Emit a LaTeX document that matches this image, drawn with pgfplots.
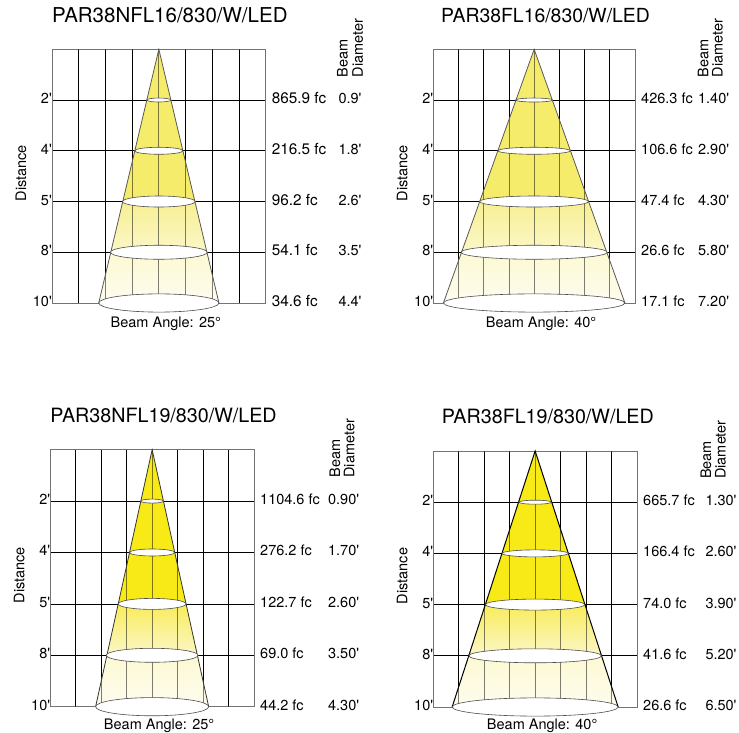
\documentclass[border=0pt]{standalone}
\usepackage{fontspec}
\setmainfont{TeX Gyre Heros}
\usepackage{pgfplots}
\pgfplotsset{compat=1.18}

\newcommand{\ft}{\textquotesingle}
\newcommand{\lab}{\fontsize{14.5}{16}\selectfont}

\pgfplotsset{
  panel/.style={
    scale only axis, clip=false, anchor=south west,
    xmin=-4, xmax=4, ymin=0, ymax=10, y dir=reverse,
    xtick={-4,-3,-2,-1,0,1,2,3,4}, xticklabels={},
    ytick={2,4,6,8,10}, yticklabels={2\ft,4\ft,5\ft,8\ft,10\ft},
    major tick length=0pt,
    grid=major, grid style={black, line width=0.7pt},
    axis line style={black!55, line width=0.7pt},
    font=\lab, tick label style={font=\lab},
    yticklabel style={anchor=base east, inner sep=0pt, yshift=-3.5pt},
    xlabel=Beam Angle: 25°,
    ylabel=Distance,
    every axis y label/.style={at={(axis description cs:0,0.5)}, xshift=-31pt, yshift=3pt,
      rotate=90, anchor=center, inner sep=0pt, font=\lab},
    every axis x label/.style={at={(axis description cs:0.5,0)},
      anchor=base, xshift=7pt, yshift=-24.7pt, font=\lab},
    every axis title/.style={at={(axis description cs:0,1)}, anchor=base west, inner sep=0pt,
      yshift=27pt, font=\fontsize{20.5}{22}\selectfont},
  },
}

% half beam widths in feet at the five rows, solid colour, fade colour
\newcommand{\beam}[7]{
  \addplot[draw=none, fill=#6] coordinates {(0,0) (#3,6) (-#3,6)} --cycle;
  \addplot[draw=none, top color=#7, bottom color=beamb] coordinates {(-#3,6) (#3,6) (#4,8) (-#4,8)} --cycle;
  \addplot[draw=none, top color=beamc, bottom color=beamd] coordinates {(-#4,8) (#4,8) (#5,10) (-#5,10)} --cycle;
  \pgfplotsinvokeforeach{-3,-2,-1,0,1,2,3}{
    \addplot[black, draw opacity=0.5, line width=0.7pt] coordinates {(##1,0) (##1,10)};
  }
  \ring{#1}{2}{2}
  \ring{#2}{4}{3.5}
  \ring{#3}{6}{5.5}
  \ring{#4}{8}{7}
  \ring{#5}{10}{9.1}
  \addplot[beamedge] coordinates {(-#5,10) (0,0) (#5,10)};
}
\newcommand{\ring}[3]{
  \addplot[only marks, mark=*, mark size=#3pt,
    mark options={xscale={#1*\colw/#3}, fill=white, draw=black!70, line width=0.6pt}]
    coordinates {(0,#2)};
}
% distance row: y, illuminance, beam diameter
\newcommand{\row}[3]{
  \node[anchor=base west, inner sep=0pt, font=\rowfont, xshift=6pt, yshift=-3.5pt] at (axis cs:4,#1) {#2};
  \node[anchor=base east, inner sep=0pt, font=\lab, xshift=\diax, yshift=-3.5pt] at (axis cs:4,#1) {#3};
}
% rotated header, baselines given from the right edge
\newcommand{\header}[2]{
  \node[xshift=#1, yshift=-28pt, rotate=90, anchor=base west, inner sep=0pt, font=\lab] at (axis description cs:1,1) {Beam};
  \node[xshift=#2, yshift=-28pt, rotate=90, anchor=base west, inner sep=0pt, font=\lab] at (axis description cs:1,1) {Diameter};
}

\begin{document}
\begin{tikzpicture}
\path[use as bounding box] (0,0) rectangle (739pt,733pt);

\definecolor{paleA}{HTML}{F6EC6C}
\definecolor{paleB}{HTML}{F7EF93}
\definecolor{beamb}{HTML}{FBF7C8}
\definecolor{beamc}{HTML}{FCF9D2}
\definecolor{beamd}{HTML}{FEFCEF}
\definecolor{fullA}{HTML}{F7EA17}
\definecolor{fullB}{HTML}{F9EC5B}

% PAR38NFL16
\tikzset{beamedge/.style={black!65, line width=0.8pt}}
\def\colw{26.7}\def\diax{96pt}\def\rowfont{\fontsize{15.3}{16}\selectfont}
\begin{axis}[panel, at={(52pt,430pt)}, width=213.7pt, height=253.7pt,
    title=PAR38NFL16/830/W/LED]
  \beam{0.45}{0.905}{1.36}{1.81}{2.25}{paleA}{paleB}
  \row{2}{865.9 fc}{0.9\ft}
  \row{4}{216.5 fc}{1.8\ft}
  \row{6}{96.2 fc}{2.6\ft}
  \row{8}{54.1 fc}{3.5\ft}
  \row{10}{34.6 fc}{4.4\ft}
  \header{82pt}{97.3pt}
\end{axis}

% PAR38FL16
\def\colw{25.2}\def\diax{94.3pt}\def\rowfont{\lab}
\begin{axis}[panel, at={(433.3pt,430pt)}, width=201.7pt, height=253.7pt,
    title=PAR38FL16/830/W/LED, title style={xshift=7.7pt, font=\fontsize{19.4}{22}\selectfont},
    xlabel=Beam Angle: 40°]
  \beam{0.73}{1.435}{2.16}{2.9}{3.6}{paleA}{paleB}
  \row{2}{426.3 fc}{1.40\ft}
  \row{4}{106.6 fc}{2.90\ft}
  \row{6}{47.4 fc}{4.30\ft}
  \row{8}{26.6 fc}{5.80\ft}
  \row{10}{17.1 fc}{7.20\ft}
  \header{73.3pt}{87.7pt}
\end{axis}

% PAR38NFL19
\tikzset{beamedge/.style={black!80, line width=0.8pt}}
\def\colw{25.46}\def\diax{105.3pt}
\begin{axis}[panel, at={(50.3pt,26.3pt)}, width=203.7pt, height=257pt,
    title=PAR38NFL19/830/W/LED, title style={yshift=0.5pt, font=\fontsize{19.7}{22}\selectfont},
    xlabel=Beam Angle: 25°, xlabel style={yshift=1.5pt}]
  \beam{0.445}{0.89}{1.33}{1.8}{2.22}{fullA}{fullB}
  \row{2}{1104.6 fc}{0.90\ft}
  \row{4}{276.2 fc}{1.70\ft}
  \row{6}{122.7 fc}{2.60\ft}
  \row{8}{69.0 fc}{3.50\ft}
  \row{10}{44.2 fc}{4.30\ft}
  \header{86pt}{100.3pt}
\end{axis}

% PAR38FL19
\tikzset{beamedge/.style={black, line width=1pt}}
\def\colw{25.46}\def\diax{99.7pt}
\begin{axis}[panel, at={(433.3pt,26pt)}, width=203.7pt, height=256pt,
    title=PAR38FL19/830/W/LED, title style={xshift=8.4pt, font=\fontsize{19.7}{22}\selectfont},
    xlabel=Beam Angle: 40°, xlabel style={yshift=1.9pt}]
  \beam{0.64}{1.3}{1.95}{2.6}{3.26}{fullA}{fullB}
  \row{2}{665.7 fc}{1.30\ft}
  \row{4}{166.4 fc}{2.60\ft}
  \row{6}{74.0 fc}{3.90\ft}
  \row{8}{41.6 fc}{5.20\ft}
  \row{10}{26.6 fc}{6.50\ft}
  \header{74pt}{88.7pt}
\end{axis}
\end{tikzpicture}
\end{document}
